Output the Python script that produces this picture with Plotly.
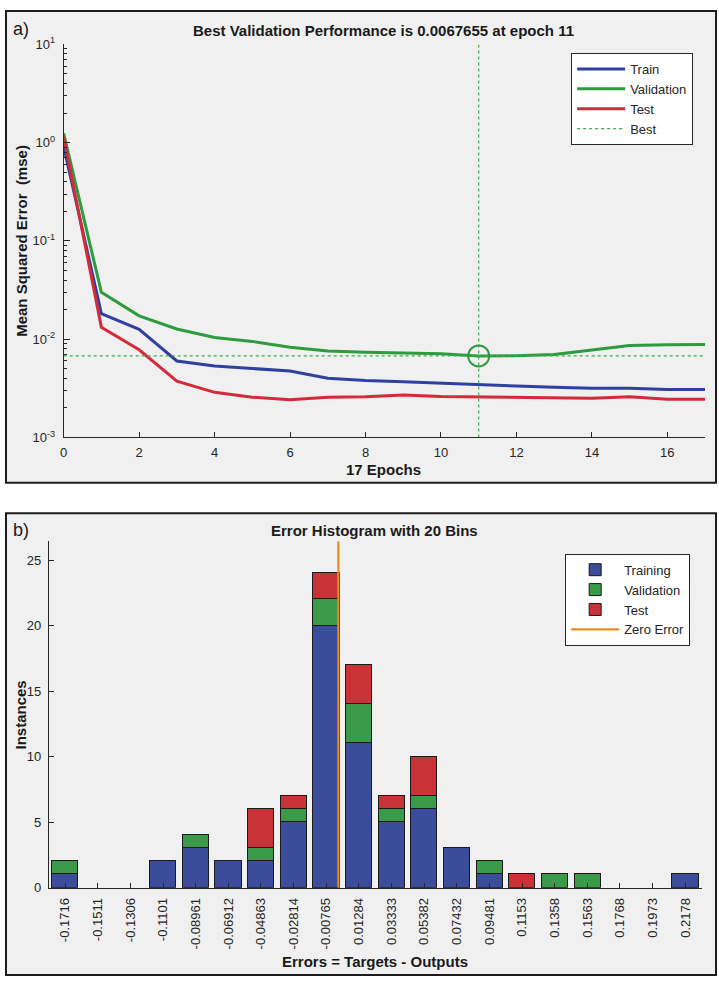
import numpy as np
import plotly.graph_objects as go

# ---------------- data: panel a (performance) ----------------
epochs = list(range(18))
train_mse = [0.91, 0.0182, 0.0126, 0.0060, 0.00533, 0.00505, 0.00475, 0.0040, 0.0038,
             0.00369, 0.00355, 0.00344, 0.00334, 0.00324, 0.00316, 0.00316, 0.00307, 0.00307]
val_mse = [1.24, 0.0300, 0.0173, 0.0127, 0.0104, 0.0095, 0.0083, 0.0076, 0.00736,
           0.00724, 0.00713, 0.0067655, 0.00680, 0.00700, 0.00782, 0.00865, 0.0088, 0.00885]
test_mse = [1.15, 0.0132, 0.0078, 0.00374, 0.00288, 0.00257, 0.00242, 0.00257, 0.00259,
            0.00271, 0.00261, 0.00259, 0.00255, 0.00251, 0.0025, 0.00259, 0.00245, 0.00245]
best_epoch = 11
best_perf = 0.0067655
n_epochs = 17

# ---------------- data: panel b (error histogram) ----------------
bin_labels = ["-0.1716", "-0.1511", "-0.1306", "-0.1101", "-0.08961", "-0.06912", "-0.04863",
              "-0.02814", "-0.00765", "0.01284", "0.03333", "0.05382", "0.07432", "0.09481",
              "0.1153", "0.1358", "0.1563", "0.1768", "0.1973", "0.2178"]
train_counts = [1, 0, 0, 2, 3, 2, 2, 5, 20, 11, 5, 6, 3, 1, 0, 0, 0, 0, 0, 1]
val_counts = [1, 0, 0, 0, 1, 0, 1, 1, 2, 3, 1, 1, 0, 1, 0, 1, 1, 0, 0, 0]
test_counts = [0, 0, 0, 0, 0, 0, 3, 1, 2, 3, 1, 3, 0, 0, 1, 0, 0, 0, 0, 0]
zero_error = 0.0

# ---------------- styling ----------------
W, H = 719, 985
FONT = "Liberation Sans, Arial, Helvetica, sans-serif"
AX = "#262626"
C_TRAIN = "#2F40A0"
C_VAL = "#2E9B3E"
C_TEST = "#D42A3A"
B_TRAIN = "#3A4C9A"
B_VAL = "#3A9A4A"
B_TEST = "#C93236"
C_ZERO = "#EC8C1C"


def px_x(x):
    return x / W


def px_y(y):
    return 1 - y / H


centers = np.array([float(s) for s in bin_labels])
bw = float(np.mean(np.diff(centers)))

fig = go.Figure()

# panel a traces
fig.add_trace(go.Scatter(x=epochs, y=train_mse, mode="lines", name="Train",
                         line=dict(color=C_TRAIN, width=3), xaxis="x", yaxis="y", legend="legend"))
fig.add_trace(go.Scatter(x=epochs, y=val_mse, mode="lines", name="Validation",
                         line=dict(color=C_VAL, width=3), xaxis="x", yaxis="y", legend="legend"))
fig.add_trace(go.Scatter(x=epochs, y=test_mse, mode="lines", name="Test",
                         line=dict(color=C_TEST, width=3), xaxis="x", yaxis="y", legend="legend"))
fig.add_trace(go.Scatter(x=[0, n_epochs], y=[best_perf, best_perf], mode="lines", name="Best",
                         line=dict(color="#3DAA4D", width=1.2, dash="dot"), xaxis="x", yaxis="y",
                         legend="legend"))
fig.add_trace(go.Scatter(x=[best_epoch, best_epoch], y=[1e-3, 1e1], mode="lines", showlegend=False,
                         line=dict(color="#3DAA4D", width=1.2, dash="dot"), xaxis="x", yaxis="y"))
fig.add_trace(go.Scatter(x=[best_epoch], y=[best_perf], mode="markers", showlegend=False,
                         marker=dict(symbol="circle-open", size=21, color=C_VAL,
                                     line=dict(width=2, color=C_VAL)), xaxis="x", yaxis="y"))


def nz(v):
    return [c if c > 0 else None for c in v]


# panel b traces
for name, vals, col in [("Training", train_counts, B_TRAIN), ("Validation", val_counts, B_VAL),
                        ("Test", test_counts, B_TEST)]:
    fig.add_trace(go.Bar(x=centers, y=nz(vals), name=name, width=bw * 0.8,
                         marker=dict(color=col, line=dict(color="#1a1a1a", width=1)),
                         xaxis="x2", yaxis="y2", legend="legend2"))
fig.add_trace(go.Scatter(x=[zero_error, zero_error], y=[0, 26.45], mode="lines", name="Zero Error",
                         line=dict(color=C_ZERO, width=2.2), xaxis="x2", yaxis="y2", legend="legend2"))

# minor ticks for log axis
minor_vals = [k * 10.0 ** e for e in range(-3, 1) for k in range(2, 10)]

axis_common = dict(showline=True, linecolor=AX, linewidth=1, ticks="inside", tickcolor=AX,
                   showgrid=False, zeroline=False, mirror=False,
                   tickfont=dict(family=FONT, size=13, color=AX))

fig.update_layout(
    width=W, height=H, autosize=False,
    margin=dict(l=0, r=0, t=0, b=0),
    paper_bgcolor="white", plot_bgcolor="white",
    barmode="stack", bargap=0,
    font=dict(family=FONT, color=AX),
    xaxis=dict(domain=[px_x(60), px_x(705)], anchor="y", range=[0, n_epochs],
               tickmode="array", tickvals=list(range(0, 17, 2)), ticklen=5,
               ticklabelstandoff=3, **axis_common),
    yaxis=dict(domain=[px_y(436), px_y(36)], anchor="x", type="log", range=[-3, 1],
               tickmode="array", tickvals=[1e-3, 1e-2, 1e-1, 1, 10],
               ticktext=["10<sup>-3</sup>", "10<sup>-2</sup>", "10<sup>-1</sup>",
                         "10<sup>0</sup>", "10<sup>1</sup>"],
               ticklen=6, ticklabelstandoff=5,
               minor=dict(tickmode="array", tickvals=minor_vals, ticks="inside", ticklen=3,
                          tickcolor=AX, showgrid=False),
               **axis_common),
    xaxis2=dict(domain=[px_x(45), px_x(701.5)], anchor="y2",
                range=[centers[0] - bw / 2, centers[-1] + bw / 2],
                tickmode="array", tickvals=centers, ticktext=bin_labels, tickangle=-90,
                ticklen=5, ticklabelstandoff=4, **axis_common),
    yaxis2=dict(domain=[px_y(894.3), px_y(541.7)], anchor="x2", range=[0, 26.45],
                tickmode="array", tickvals=[0, 5, 10, 15, 20, 25], ticklen=5,
                ticklabelstandoff=4, **axis_common),
    legend=dict(x=px_x(693), y=px_y(44.7), xanchor="right", yanchor="top",
                bgcolor="white", bordercolor=AX, borderwidth=1, itemwidth=48,
                font=dict(family=FONT, size=13, color=AX), tracegroupgap=0,
                itemclick=False, itemdoubleclick=False),
    legend2=dict(x=px_x(690), y=px_y(554.3), xanchor="right", yanchor="top",
                 bgcolor="white", bordercolor=AX, borderwidth=1, itemwidth=48,
                 font=dict(family=FONT, size=13, color=AX), tracegroupgap=0,
                 traceorder="normal", itemclick=False, itemdoubleclick=False),
)

# panel backgrounds (gray figure windows with dark frames)
shapes = []
for (x0, y0, x1, y1) in [(2, 2, 716, 482), (2, 513, 716, 983)]:
    shapes.append(dict(type="rect", xref="paper", yref="paper",
                       x0=px_x(x0), x1=px_x(x1), y0=px_y(y1), y1=px_y(y0),
                       fillcolor="#F0F0F0", line=dict(color="#1c1c1c", width=2), layer="below"))
fig.update_layout(shapes=shapes)


def ann(text, x, y, size=15, bold=True, angle=0, xanchor="center"):
    t = f"<b>{text}</b>" if bold else text
    return dict(text=t, x=px_x(x), y=px_y(y), xref="paper", yref="paper", showarrow=False,
                xanchor=xanchor, yanchor="middle", textangle=angle,
                font=dict(family=FONT, size=size, color="#1a1a1a"))


fig.update_layout(annotations=[
    ann("a)", 7, 20, size=18, bold=False, xanchor="left"),
    ann("Best Validation Performance is 0.0067655 at epoch 11", 382, 22),
    ann("17 Epochs", 382, 469),
    ann("Mean Squared Error  (mse)", 18, 236, angle=-90),
    ann("b)", 7, 530, size=18, bold=False, xanchor="left"),
    ann("Error Histogram with 20 Bins", 373, 531),
    ann("Instances", 17, 718, angle=-90),
    ann("Errors = Targets - Outputs", 373, 969),
])

fig.write_html("out.html")
